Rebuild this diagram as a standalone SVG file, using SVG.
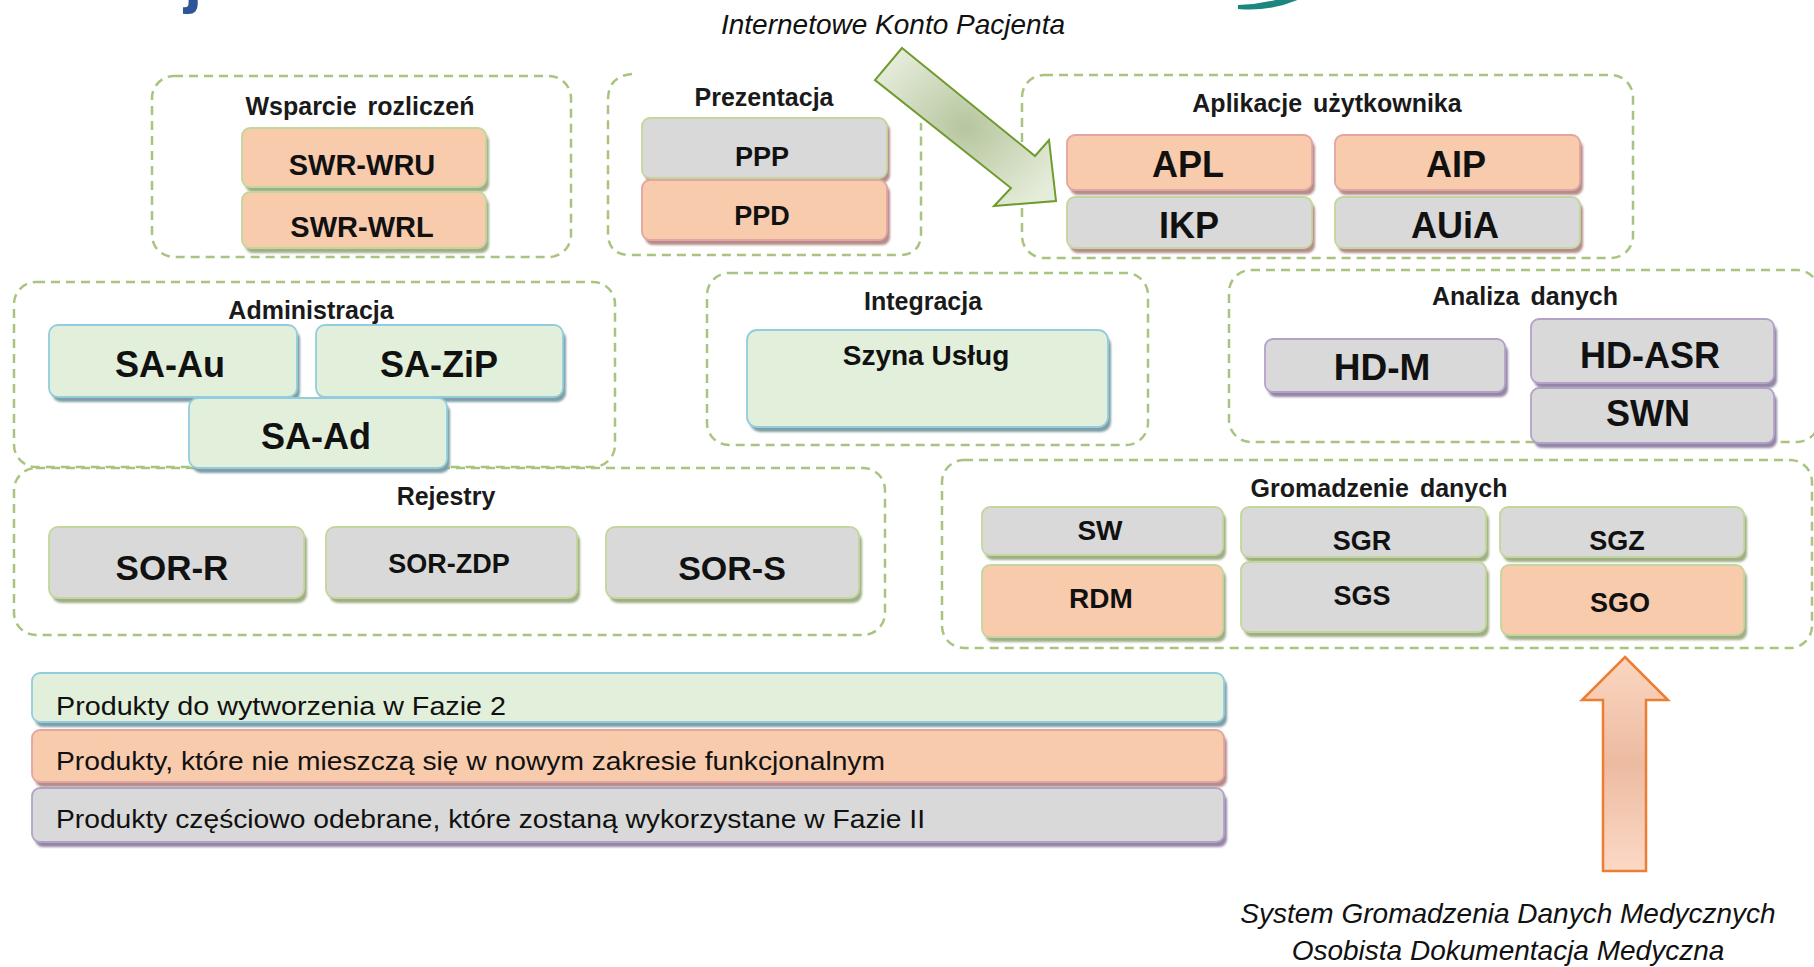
<svg xmlns="http://www.w3.org/2000/svg" width="1814" height="967" viewBox="0 0 1814 967">
<defs>
<style>
.grp{fill:none;stroke:#a9c47f;stroke-width:2.5;stroke-dasharray:9 6}
.gt{font-family:"Liberation Sans",Arial,sans-serif;font-weight:bold;font-size:25px;fill:#1a1a1a;text-anchor:middle;word-spacing:4px}
.lb{font-family:"Liberation Sans",Arial,sans-serif;font-weight:bold;fill:#111;text-anchor:middle}
.it{font-family:"Liberation Sans",Arial,sans-serif;font-style:italic;font-size:28px;fill:#111;text-anchor:middle}
.lg{font-family:"Liberation Sans",Arial,sans-serif;font-size:25px;fill:#111}
.box{stroke-width:1.8}
.pe{fill:#f8cbad}.gy{fill:#d9d9d9}.gn{fill:#e2efda}
.bG{stroke:#c3d69b}.bP{stroke:#e2a5a2}.bB{stroke:#93cddd}.bV{stroke:#b3a2c7}
.sh{filter:url(#blur)}
.sG{fill:#9fae86}.sR{fill:#b48c8a}.sB{fill:#7f9ea6}.sV{fill:#9486a6}
</style>
<filter id="blur" x="-10%" y="-20%" width="120%" height="140%"><feGaussianBlur stdDeviation="1.3"/></filter>
<radialGradient id="gArr" cx="0.5" cy="0.5" r="0.6">
<stop offset="0" stop-color="#b6c69e"/><stop offset="1" stop-color="#e6ecdb"/>
</radialGradient>
<linearGradient id="oArr" x1="0" y1="0" x2="0" y2="1">
<stop offset="0" stop-color="#fcd6c1"/><stop offset="0.5" stop-color="#ecbba1"/><stop offset="1" stop-color="#fcd9c6"/>
</linearGradient>
</defs>
<rect width="1814" height="967" fill="#ffffff"/>

<g id="title-fragment">
<text x="184" y="0" font-family="Liberation Sans,Arial,sans-serif" font-weight="bold" font-size="66" fill="#2e5597">j</text>
<path d="M1238,9 Q1272,12 1302,-2 L1302,-9 Q1272,4 1238,5 Z" fill="#1b8580"/>
</g>

<!-- groups -->
<g id="grp-wsparcie"><rect class="grp" x="152" y="76" width="419" height="181" rx="22"/><text class="gt" x="360" y="115">Wsparcie rozliczeń</text></g>
<g id="grp-prezentacja"><path class="grp" d="M632,74 Q608,76 608,100 L608,233 Q608,255 630,255 L899,255 Q921,255 921,233 L921,123"/><text class="gt" x="764" y="106">Prezentacja</text></g>
<g id="grp-aplikacje"><rect class="grp" x="1022" y="75" width="611" height="183" rx="22"/><text class="gt" x="1327" y="112">Aplikacje użytkownika</text></g>
<g id="grp-administracja"><rect class="grp" x="14" y="282" width="601" height="185" rx="22"/><text class="gt" x="311" y="319">Administracja</text></g>
<g id="grp-integracja"><rect class="grp" x="707" y="273" width="441" height="172" rx="22"/><text class="gt" x="923" y="310">Integracja</text></g>
<g id="grp-analiza"><rect class="grp" x="1229" y="270" width="590" height="172" rx="22"/><text class="gt" x="1525" y="305">Analiza danych</text></g>
<g id="grp-rejestry"><rect class="grp" x="14" y="468" width="871" height="167" rx="22"/><text class="gt" x="446" y="505">Rejestry</text></g>
<g id="grp-gromadzenie"><rect class="grp" x="942" y="460" width="870" height="188" rx="22"/><text class="gt" x="1379" y="497">Gromadzenie danych</text></g>

<!-- nodes -->
<g id="n-swr-wru"><rect class="sh sG" x="245" y="133" width="244" height="59" rx="8"/><rect class="box pe bG" x="242" y="128" width="244" height="59" rx="8"/><text class="lb" x="362" y="175" font-size="29">SWR-WRU</text></g>
<g id="n-swr-wrl"><rect class="sh sG" x="245" y="197" width="244" height="56" rx="8"/><rect class="box pe bG" x="242" y="192" width="244" height="56" rx="8"/><text class="lb" x="362" y="237" font-size="29">SWR-WRL</text></g>

<g id="n-ppp"><rect class="sh sR" x="645" y="123" width="245" height="60" rx="8"/><rect class="box gy bG" x="642" y="118" width="245" height="60" rx="8"/><text class="lb" x="762" y="166" font-size="27">PPP</text></g>
<g id="n-ppd"><rect class="sh sR" x="645" y="185" width="245" height="60" rx="8"/><rect class="box pe bP" x="642" y="180" width="245" height="60" rx="8"/><text class="lb" x="762" y="225" font-size="27">PPD</text></g>

<g id="n-apl"><rect class="sh sR" x="1070" y="140" width="245" height="55" rx="8"/><rect class="box pe bP" x="1067" y="135" width="245" height="55" rx="8"/><text class="lb" x="1188" y="177" font-size="36">APL</text></g>
<g id="n-aip"><rect class="sh sR" x="1338" y="140" width="245" height="55" rx="8"/><rect class="box pe bP" x="1335" y="135" width="245" height="55" rx="8"/><text class="lb" x="1456" y="177" font-size="36">AIP</text></g>
<g id="n-ikp"><rect class="sh sR" x="1070" y="202" width="245" height="51" rx="8"/><rect class="box gy bG" x="1067" y="197" width="245" height="51" rx="8"/><text class="lb" x="1189" y="238" font-size="36">IKP</text></g>
<g id="n-auia"><rect class="sh sR" x="1338" y="202" width="245" height="51" rx="8"/><rect class="box gy bG" x="1335" y="197" width="245" height="51" rx="8"/><text class="lb" x="1455" y="238" font-size="36">AUiA</text></g>

<g id="n-sa-au"><rect class="sh sB" x="52" y="330" width="248" height="72" rx="9"/><rect class="box gn bB" x="49" y="325" width="248" height="72" rx="9"/><text class="lb" x="170" y="377" font-size="36">SA-Au</text></g>
<g id="n-sa-zip"><rect class="sh sB" x="319" y="330" width="247" height="72" rx="9"/><rect class="box gn bB" x="316" y="325" width="247" height="72" rx="9"/><text class="lb" x="439" y="377" font-size="36">SA-ZiP</text></g>
<g id="n-sa-ad"><rect class="sh sB" x="192" y="403" width="258" height="70" rx="9"/><rect class="box gn bB" x="189" y="398" width="258" height="70" rx="9"/><text class="lb" x="316" y="449" font-size="36">SA-Ad</text></g>

<g id="n-szyna"><rect class="sh sB" x="750" y="335" width="361" height="97" rx="10"/><rect class="box gn bB" x="747" y="330" width="361" height="97" rx="10"/><text class="lb" x="926" y="365" font-size="28">Szyna Usług</text></g>

<g id="n-hd-m"><rect class="sh sV" x="1268" y="344" width="240" height="53" rx="8"/><rect class="box gy bV" x="1265" y="339" width="240" height="53" rx="8"/><text class="lb" x="1382" y="380" font-size="37">HD-M</text></g>
<g id="n-hd-asr"><rect class="sh sV" x="1534" y="324" width="243" height="64" rx="8"/><rect class="box gy bV" x="1531" y="319" width="243" height="64" rx="8"/><text class="lb" x="1650" y="368" font-size="36">HD-ASR</text></g>
<g id="n-swn"><rect class="sh sV" x="1534" y="393" width="243" height="55" rx="8"/><rect class="box gy bV" x="1531" y="388" width="243" height="55" rx="8"/><text class="lb" x="1648" y="426" font-size="36">SWN</text></g>

<g id="n-sor-r"><rect class="sh sG" x="52" y="532" width="255" height="71" rx="9"/><rect class="box gy bG" x="49" y="527" width="255" height="71" rx="9"/><text class="lb" x="172" y="580" font-size="35">SOR-R</text></g>
<g id="n-sor-zdp"><rect class="sh sG" x="329" y="532" width="251" height="71" rx="9"/><rect class="box gy bG" x="326" y="527" width="251" height="71" rx="9"/><text class="lb" x="449" y="573" font-size="27">SOR-ZDP</text></g>
<g id="n-sor-s"><rect class="sh sG" x="609" y="532" width="253" height="71" rx="9"/><rect class="box gy bG" x="606" y="527" width="253" height="71" rx="9"/><text class="lb" x="732" y="580" font-size="34">SOR-S</text></g>

<g id="n-sw"><rect class="sh sG" x="985" y="512" width="241" height="48" rx="8"/><rect class="box gy bG" x="982" y="507" width="241" height="48" rx="8"/><text class="lb" x="1100" y="540" font-size="28">SW</text></g>
<g id="n-rdm"><rect class="sh sG" x="985" y="570" width="241" height="72" rx="8"/><rect class="box pe bG" x="982" y="565" width="241" height="72" rx="8"/><text class="lb" x="1101" y="608" font-size="28">RDM</text></g>
<g id="n-sgr"><rect class="sh sG" x="1244" y="512" width="245" height="50" rx="8"/><rect class="box gy bG" x="1241" y="507" width="245" height="50" rx="8"/><text class="lb" x="1362" y="550" font-size="27">SGR</text></g>
<g id="n-sgs"><rect class="sh sG" x="1244" y="567" width="245" height="70" rx="8"/><rect class="box gy bG" x="1241" y="562" width="245" height="70" rx="8"/><text class="lb" x="1362" y="605" font-size="27">SGS</text></g>
<g id="n-sgz"><rect class="sh sG" x="1503" y="512" width="244" height="50" rx="8"/><rect class="box gy bG" x="1500" y="507" width="244" height="50" rx="8"/><text class="lb" x="1617" y="550" font-size="27">SGZ</text></g>
<g id="n-sgo"><rect class="sh sG" x="1504" y="570" width="243" height="70" rx="8"/><rect class="box pe bG" x="1501" y="565" width="243" height="70" rx="8"/><text class="lb" x="1620" y="612" font-size="27">SGO</text></g>

<!-- legend -->
<g id="legend-1"><rect class="sh sB" x="35" y="678" width="1192" height="49" rx="8"/><rect class="box gn bB" x="32" y="673" width="1192" height="49" rx="8"/><text class="lg" x="56" y="715" textLength="450" lengthAdjust="spacingAndGlyphs">Produkty do wytworzenia w Fazie 2</text></g>
<g id="legend-2"><rect class="sh sR" x="35" y="735" width="1192" height="52" rx="8"/><rect class="box pe bP" x="32" y="730" width="1192" height="52" rx="8"/><text class="lg" x="56" y="770" textLength="829" lengthAdjust="spacingAndGlyphs">Produkty, które nie mieszczą się w nowym zakresie funkcjonalnym</text></g>
<g id="legend-3"><rect class="sh sV" x="35" y="793" width="1192" height="54" rx="8"/><rect class="box gy bV" x="32" y="788" width="1192" height="54" rx="8"/><text class="lg" x="56" y="828" textLength="869" lengthAdjust="spacingAndGlyphs">Produkty częściowo odebrane, które zostaną wykorzystane w Fazie II</text></g>

<!-- connectors (block arrows) -->
<g id="connectors">
<polygon points="902,48 1035,156 1049,140 1056,201 994,206 1011,188 875,80" fill="url(#gArr)" stroke="#6e9a2e" stroke-width="2" stroke-linejoin="miter"/>
<polygon points="1625,657 1668,700 1646,700 1646,871 1603,871 1603,700 1582,700" fill="url(#oArr)" stroke="#ed7d31" stroke-width="2.5"/>
</g>

<!-- annotations -->
<g id="labels">
<text class="it" x="893" y="34">Internetowe Konto Pacjenta</text>
<text class="it" x="1508" y="923">System Gromadzenia Danych Medycznych</text>
<text class="it" x="1508" y="960">Osobista Dokumentacja Medyczna</text>
</g>
</svg>
